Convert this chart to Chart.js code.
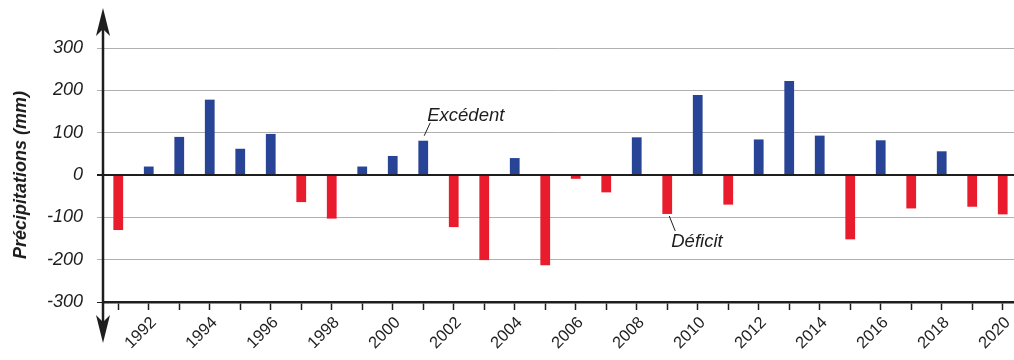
<!DOCTYPE html>
<html>
<head>
<meta charset="utf-8">
<script src="https://cdn.jsdelivr.net/npm/chart.js@4"></script>
<style>
  html, body { margin: 0; padding: 0; background: #fff; overflow: hidden; }
  #wrap { width: 1014px; height: 360px; position: relative; }
</style>
</head>
<body>
<div id="wrap"><canvas id="precipChart"></canvas></div>
<script>
// années et écarts de précipitations (mm)
const annees = [1991, 1992, 1993, 1994, 1995, 1996, 1997, 1998, 1999, 2000,
                2001, 2002, 2003, 2004, 2005, 2006, 2007, 2008, 2009, 2010,
                2011, 2012, 2013, 2014, 2015, 2016, 2017, 2018, 2019, 2020];
const ecarts = [-130, 20, 90, 178, 62, 97, -64, -103, 20, 45,
                81, -123, -201, 40, -213, -9, -41, 89, -92, 189,
                -70, 84, 222, 93, -152, 82, -79, 56, -75, -93];
const yTicks = [-300, -200, -100, 0, 100, 200, 300];
const annotations = [
    { texte: "Excédent", annee: 2001 },
    { texte: "Déficit", annee: 2009 }
];

const BLEU = "rgb(40, 68, 150)";
const ROUGE = "rgb(232, 28, 44)";
const NOIR = "#1e1e1e";

// dessine l'axe vertical avec ses flèches + les étiquettes Excédent / Déficit
const decorPlugin = {
    id: "decor",
    afterDraw(chart) {
        const ctx = chart.ctx;
        const x = chart.scales.x;
        const y = chart.scales.y;
        const ax = chart.chartArea.left;
        ctx.save();
        ctx.strokeStyle = NOIR;
        ctx.fillStyle = NOIR;
        ctx.lineWidth = 2.5;
        ctx.beginPath();
        ctx.moveTo(ax, 20);
        ctx.lineTo(ax, 330);
        ctx.stroke();
        // flèche haut
        ctx.beginPath();
        ctx.moveTo(ax, 8);
        ctx.lineTo(ax + 7, 36);
        ctx.lineTo(ax, 29);
        ctx.lineTo(ax - 7, 36);
        ctx.closePath();
        ctx.fill();
        // flèche bas
        ctx.beginPath();
        ctx.moveTo(ax, 343);
        ctx.lineTo(ax + 7, 315);
        ctx.lineTo(ax, 322);
        ctx.lineTo(ax - 7, 315);
        ctx.closePath();
        ctx.fill();

        ctx.font = "italic 18.5px 'Liberation Sans', Arial, sans-serif";
        ctx.lineWidth = 1;
        annotations.forEach(a => {
            const i = annees.indexOf(a.annee);
            const px = x.getPixelForValue(a.annee);
            const py = y.getPixelForValue(ecarts[i]);
            ctx.beginPath();
            if (ecarts[i] > 0) {
                ctx.moveTo(px + 1, py - 5);
                ctx.lineTo(px + 7, py - 18);
                ctx.stroke();
                ctx.textBaseline = "alphabetic";
                ctx.fillText(a.texte, px + 4, py - 20);
            } else {
                ctx.moveTo(px + 2, py + 2);
                ctx.lineTo(px + 8, py + 17);
                ctx.stroke();
                ctx.textBaseline = "top";
                ctx.fillText(a.texte, px + 4, py + 19);
            }
        });
        ctx.restore();
    }
};

const precipChart = new Chart(document.getElementById("precipChart"), {
    type: "bar",
    data: {
        datasets: [{
            label: "Précipitations (mm)",
            data: annees.map((a, i) => ({ x: a, y: ecarts[i] })),
            backgroundColor: ecarts.map(v => v >= 0 ? BLEU : ROUGE),
            borderWidth: 0,
            barPercentage: 0.32,
            categoryPercentage: 1
        }]
    },
    options: {
        responsive: true,
        maintainAspectRatio: false,
        animation: false,
        layout: { padding: { top: 48, left: 0, right: 0, bottom: 0 } },
        plugins: {
            legend: { display: false },
            tooltip: { enabled: false }
        },
        scales: {
            x: {
                type: "linear",
                offset: false,
                min: 1990.5,
                max: 2020.37,
                afterBuildTicks: s => { s.ticks = annees.map(v => ({ value: v })); },
                afterFit: s => { s.height = 58; s.paddingLeft = 0; s.paddingRight = 0; },
                border: { display: true, color: NOIR, width: 2.5 },
                grid: {
                    offset: false,
                    drawOnChartArea: false,
                    drawTicks: true,
                    tickLength: 8,
                    tickColor: NOIR,
                    tickWidth: 1.5
                },
                ticks: {
                    autoSkip: false,
                    minRotation: 45,
                    maxRotation: 45,
                    padding: 3,
                    labelOffset: 5,
                    color: NOIR,
                    font: { family: "'Liberation Sans', Arial, sans-serif", size: 16.5 },
                    callback: v => (v % 2 === 0 ? String(v) : "")
                }
            },
            y: {
                min: -300,
                max: 300,
                afterBuildTicks: s => { s.ticks = yTicks.map(v => ({ value: v })); },
                afterFit: s => { s.width = 103; },
                border: { display: false },
                grid: {
                    color: c => c.tick.value === 0 ? NOIR : (c.tick.value === -300 ? NOIR : "#b0b0b0"),
                    lineWidth: c => c.tick.value === 0 ? 2 : 1,
                    tickLength: 6
                },
                ticks: {
                    padding: 14,
                    color: NOIR,
                    font: { family: "'Liberation Sans', Arial, sans-serif", size: 18, style: "italic" }
                },
                title: {
                    display: true,
                    text: "Précipitations (mm)",
                    color: NOIR,
                    padding: { top: 10, bottom: 0 },
                    font: { family: "'Liberation Sans', Arial, sans-serif", size: 18, style: "italic", weight: "bold" }
                }
            }
        }
    },
    plugins: [decorPlugin]
});
</script>
</body>
</html>
